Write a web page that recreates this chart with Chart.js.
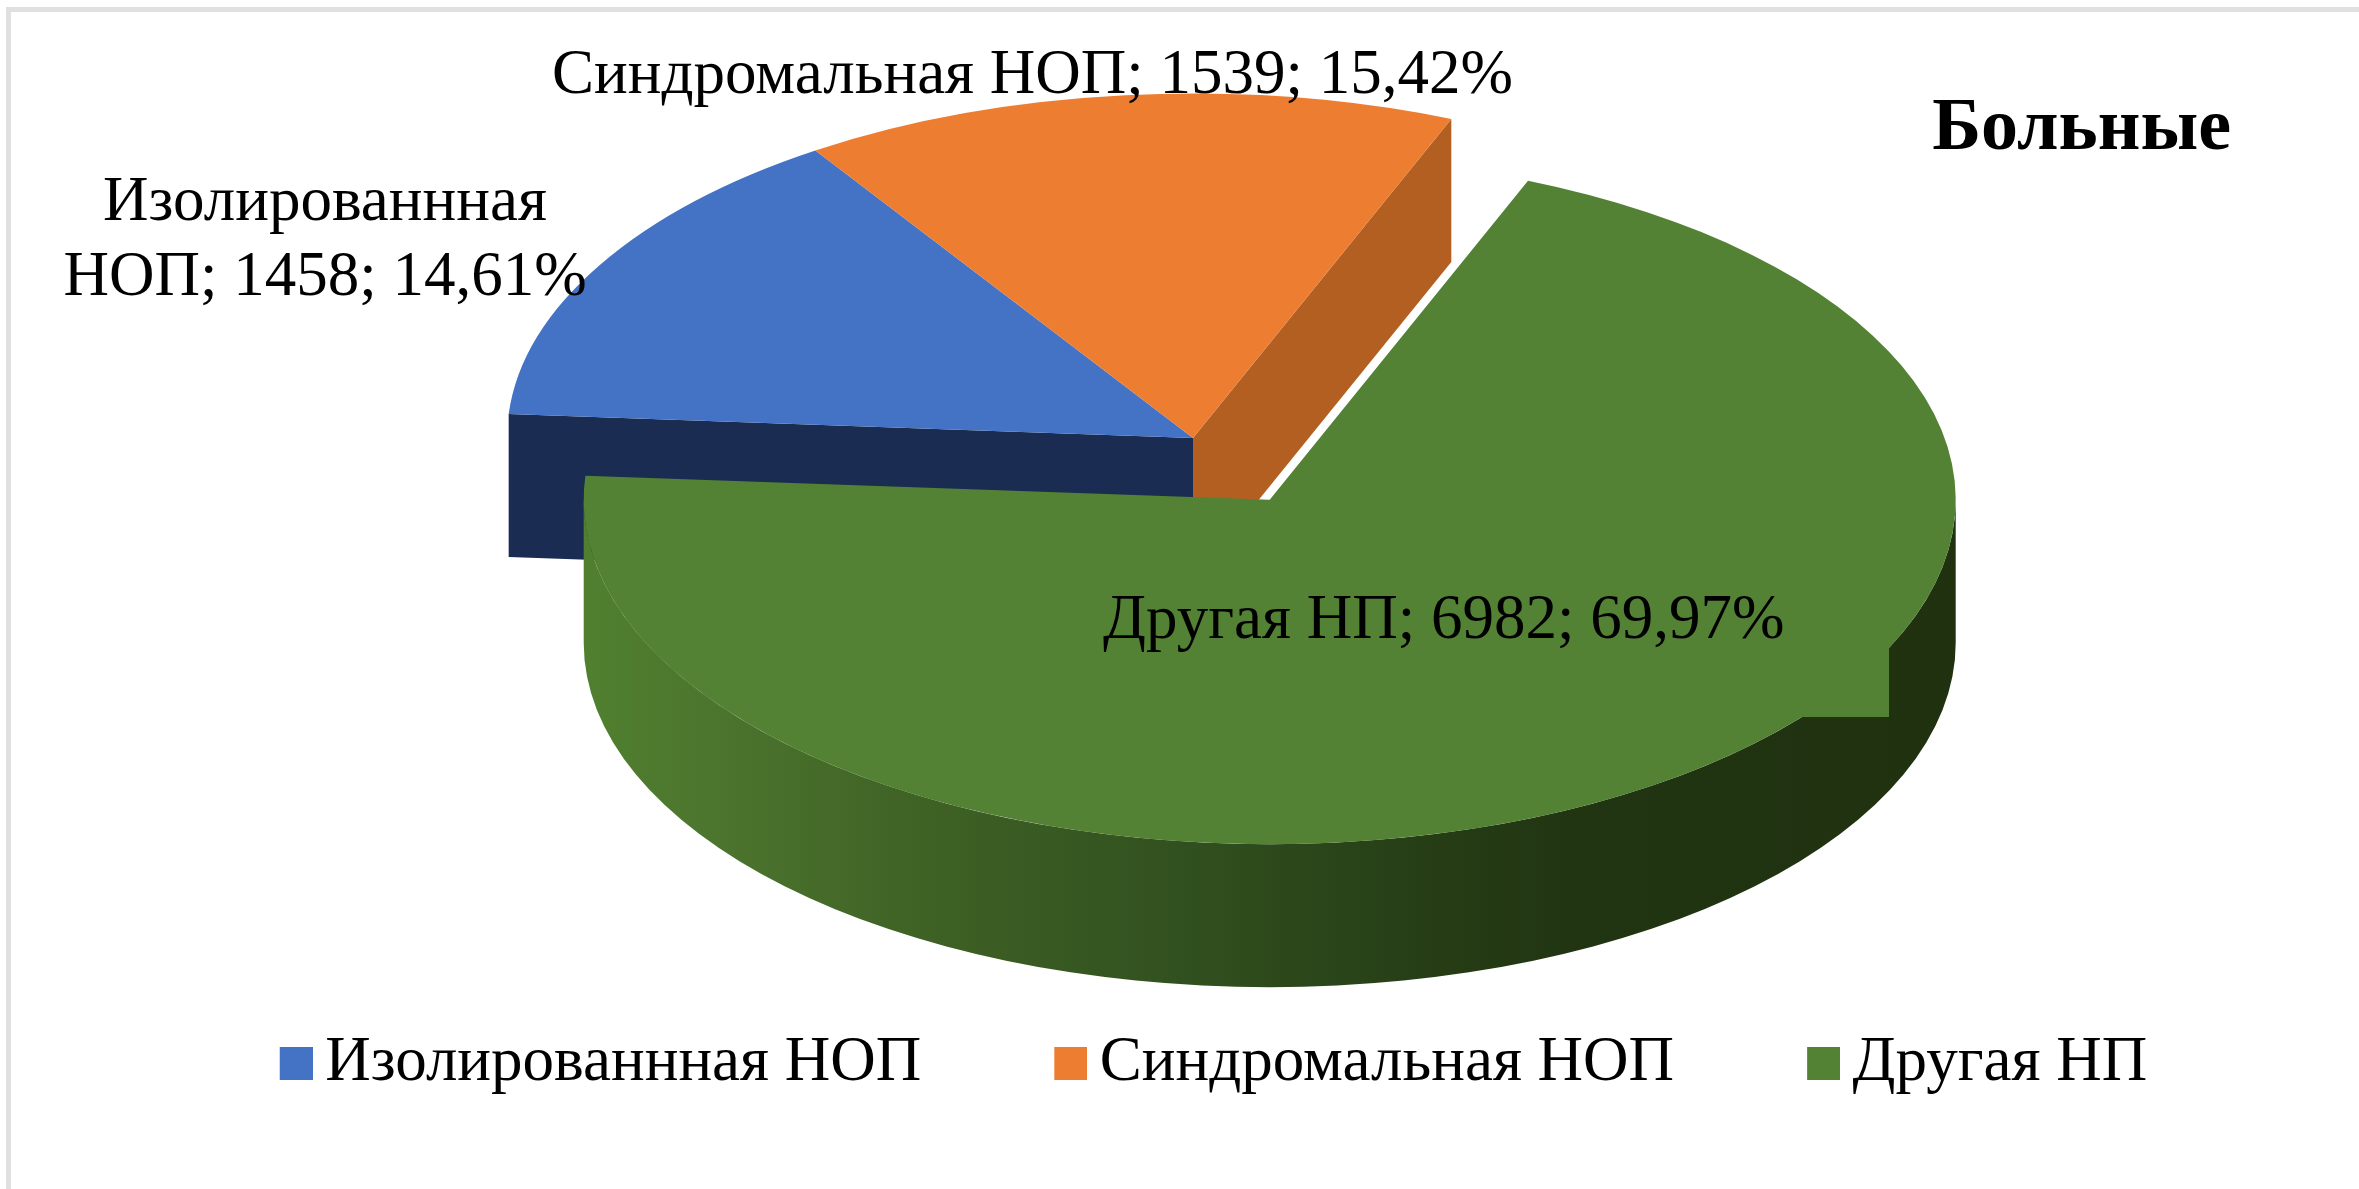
<!DOCTYPE html>
<html lang="ru">
<head>
    <meta charset="UTF-8">
    <title>Больные</title>
    <style>
        html, body { margin: 0; background: #fff; overflow: hidden; }
        #frame { position: absolute; left: 6px; top: 7px; right: 0; bottom: 0; border-left: 5px solid #e0e0e0; border-top: 5px solid #e0e0e0; }
        #wrap { position: absolute; left: 0; top: 0; width: 2359px; height: 1189px; }
    </style>
</head>
<body>
<div id="frame"></div>
<div id="wrap"><canvas id="myChart"></canvas></div>
<script src="https://cdn.jsdelivr.net/npm/chart.js@4.4.1/dist/chart.umd.min.js"></script>
<script>
    const titleText = 'Больные';
    const categories = ['Изолированнная НОП', 'Синдромальная НОП', 'Другая НП'];
    const values = [1458, 1539, 6982];
    const percents = ['14,61', '15,42', '69,97'];

    const topColors = ['#4472c4', '#ed7d31', '#548235'];
    const serif = '"Liberation Serif", "Times New Roman", serif';

    // the 3d look: squashed pie, walls below it, green slice pulled out
    const pieX = 1193, pieY = 438, radius = 686, squash = 0.502, depth = 143;
    const pullOut = [0, 0, 145];

    // legend: chart.js puts text boxWidth + font/2 after the item start, so the
    // swatch sits at the right end of a wider transparent canvas to get the small gap
    const legendFont = 63, legendBox = 127;

    function sliceOrigin(arc, i) {
        const mid = (arc.startAngle + arc.endAngle) / 2;
        return [pieX + Math.cos(mid) * pullOut[i], pieY + Math.sin(mid) * pullOut[i] * squash];
    }

    function radialWall(ctx, arc, i, angle, color) {
        const [x, y] = sliceOrigin(arc, i);
        const ex = x + Math.cos(angle) * arc.outerRadius;
        const ey = y + Math.sin(angle) * arc.outerRadius * squash;
        ctx.fillStyle = color;
        ctx.beginPath();
        ctx.moveTo(x, y);
        ctx.lineTo(ex, ey);
        ctx.lineTo(ex, ey + depth);
        ctx.lineTo(x, y + depth);
        ctx.closePath();
        ctx.fill();
    }

    function outerWall(ctx, arc, i) {
        const [x, y] = sliceOrigin(arc, i);
        const r = arc.outerRadius;
        const grad = ctx.createLinearGradient(x - r, 0, x + r, 0);
        grad.addColorStop(0, '#50802f');
        grad.addColorStop(0.11, '#4b732d');
        grad.addColorStop(0.24, '#3f6225');
        grad.addColorStop(0.44, '#31501f');
        grad.addColorStop(0.63, '#253c15');
        grad.addColorStop(0.72, '#213512');
        grad.addColorStop(1, '#203110');
        ctx.fillStyle = grad;
        ctx.beginPath();
        ctx.ellipse(x, y, r, r * squash, 0, 0, Math.PI);
        ctx.ellipse(x, y + depth, r, r * squash, 0, Math.PI, 0, true);
        ctx.closePath();
        ctx.fill();
    }

    const pie3d = {
        id: 'pie3d',
        beforeDatasetDraw(chart, args) {
            const ctx = chart.ctx;
            const arcs = args.meta.data;
            radialWall(ctx, arcs[0], 0, arcs[0].startAngle, '#1a2c52');
            radialWall(ctx, arcs[1], 1, arcs[1].endAngle, '#b35f22');
            outerWall(ctx, arcs[2], 2);
            arcs.forEach((arc, i) => {
                const [x, y] = sliceOrigin(arc, i);
                ctx.save();
                ctx.translate(x, y);
                ctx.scale(1, squash);
                ctx.translate(-arc.x, -arc.y);
                arc.draw(ctx);
                ctx.restore();
            });
            // flat patch left over at the rim in the original picture
            ctx.fillStyle = topColors[2];
            ctx.fillRect(1802, 600, 87, 117);
            return false;
        },
        afterDatasetsDraw(chart) {
            const ctx = chart.ctx;
            ctx.save();
            ctx.fillStyle = '#000';
            ctx.font = '63px ' + serif;
            ctx.textBaseline = 'alphabetic';
            ctx.textAlign = 'center';
            ctx.fillText('Изолированнная', 325, 220);
            ctx.fillText('НОП; ' + values[0] + '; ' + percents[0] + '%', 325, 295);
            ctx.textAlign = 'left';
            ctx.fillText(categories[1] + '; ' + values[1] + '; ' + percents[1] + '%', 552, 93);
            ctx.fillText(categories[2] + '; ' + values[2] + '; ' + percents[2] + '%', 1103, 638);
            ctx.restore();
        }
    };

    function swatch(color) {
        const c = document.createElement('canvas');
        c.width = legendBox + Math.round(legendFont / 2) + 6;
        c.height = 33;
        const g = c.getContext('2d');
        g.fillStyle = color;
        g.fillRect(c.width - 33, 0, 33, 33);
        return c;
    }

    new Chart(document.getElementById('myChart'), {
        type: 'pie',
        data: {
            labels: categories,
            datasets: [{
                data: values,
                backgroundColor: topColors,
                borderWidth: 0,
                radius: radius,
                rotation: 274
            }]
        },
        options: {
            responsive: true,
            maintainAspectRatio: false,
            animation: false,
            layout: { padding: { left: 83, right: 128, bottom: 84 } },
            plugins: {
                tooltip: { enabled: false },
                title: {
                    display: true,
                    text: titleText,
                    align: 'end',
                    color: '#000',
                    font: { family: serif, size: 74, weight: 'bold' },
                    padding: { top: 85, bottom: 0 }
                },
                legend: {
                    position: 'bottom',
                    labels: {
                        color: '#000',
                        font: { family: serif, size: legendFont },
                        usePointStyle: true,
                        pointStyleWidth: legendBox,
                        padding: 20,
                        generateLabels(chart) {
                            const items = Chart.overrides.doughnut.plugins.legend.labels.generateLabels(chart);
                            return items.map((item, i) => ({ ...item, pointStyle: swatch(topColors[i]) }));
                        }
                    }
                }
            }
        },
        plugins: [pie3d]
    });
</script>
</body>
</html>
